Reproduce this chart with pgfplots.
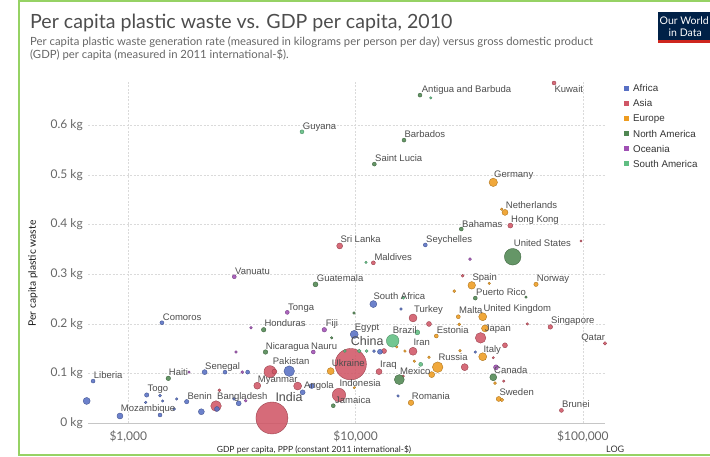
\documentclass[border=0pt]{standalone}
\usepackage{pgfplots}
\pgfplotsset{compat=1.18}
\usepackage{fontspec}
\setmainfont{Lato}
\newfontfamily\arialf{Liberation Sans}
\definecolor{afr}{RGB}{88,112,196}
\definecolor{asi}{RGB}{208,86,102}
\definecolor{eur}{RGB}{238,156,32}
\definecolor{nam}{RGB}{80,135,82}
\definecolor{oce}{RGB}{160,80,180}
\definecolor{sam}{RGB}{96,190,130}
\definecolor{labc}{RGB}{77,77,77}
\definecolor{tickc}{RGB}{102,102,102}
\definecolor{gridc}{RGB}{218,218,218}
\definecolor{frameg}{RGB}{150,210,100}
\definecolor{owidblue}{RGB}{0,33,71}
\definecolor{owidred}{RGB}{206,38,30}
\pgfplotsset{
 bub/.style={scatter, only marks, mark=*,
   scatter/use mapped color={draw=#1!72!black, fill=#1},
   mark options={fill opacity=0.88, line width=0.35pt},
   visualization depends on={\thisrow{r}\as\rr},
   scatter/@pre marker code/.append style={/tikz/mark size=\rr}}
}
\newcommand{\lab}[3]{\node[anchor=base west, inner sep=0pt, text=labc, font=\arialf\fontsize{9.5}{9.5}\selectfont] at (#1,#2+3.4) {#3};}
\begin{document}
\begin{tikzpicture}
\begin{axis}[
  at={(88pt,32.7pt)}, anchor=south west,
  scale only axis, width=517pt, height=341.3pt,
  xmode=log, xmin=665, xmax=125100, ymin=0, ymax=0.687,
  clip=false,
  axis line style={draw=none},
  major tick length=0pt, minor tick length=0pt,
  xminorticks=false,
  xtick={1000,10000,100000},
  xticklabels={{\$1,000},{\$10,000},{\$100,000}},
  ytick={0,0.1,0.2,0.3,0.4,0.5,0.6},
  yticklabels={{0 kg},{0.1 kg},{0.2 kg},{0.3 kg},{0.4 kg},{0.5 kg},{0.6 kg}},
  xmajorgrids, ymajorgrids,
  grid style={gridc, line width=0.5pt, dash pattern=on 2pt off 1.5pt},
  xticklabel style={font=\fontsize{12}{12}\selectfont, text=tickc, inner sep=0pt, yshift=-7pt},
  yticklabel style={font=\fontsize{12}{12}\selectfont, text=tickc, inner sep=0pt, xshift=-5pt},
]
\draw[gray!45, line width=0.6pt] (rel axis cs:0,0) -- (rel axis cs:1,0);
% Asia
\addplot[bub=asi] table[x=g,y=w] {
g w r
4285 0.0107 16
9515 0.119 15.7
74640 0.685 2
47930 0.398 2.5
8510 0.357 3
11970 0.323 2
98080 0.367 1.2
29580 0.297 1.5
17890 0.212 4
21030 0.200 2.5
56930 0.200 1.3
71900 0.194 2.3
35480 0.172 5.3
125100 0.161 1.8
45400 0.157 2.5
40340 0.132 1.2
17890 0.145 4
13340 0.1455 2.5
12680 0.104 3
30200 0.113 3.5
44840 0.085 1.3
16210 0.095 1.3
4201 0.104 6
4395 0.104 2.5
3694 0.0757 3.5
5560 0.075 4
2515 0.0664 1.5
2432 0.0348 5.3
8450 0.057 6.7
80440 0.026 2
};
% Africa
\addplot[bub=afr] table[x=g,y=w] {
g w r
656 0.045 3.5
700 0.085 2
919 0.0147 3
1205 0.057 2.2
1379 0.0555 1.5
1416 0.045 1.3
1193 0.042 1.3
1633 0.049 1.3
1379 0.0167 2
1592 0.0288 1.5
1807 0.0435 2.2
2096 0.0233 3
1406 0.2024 2
2167 0.103 2.5
2664 0.103 2
3350 0.103 2
2455 0.0288 2.5
2917 0.049 1.5
3060 0.0402 2.5
5105 0.105 5.3
6410 0.075 2.5
5850 0.0624 2.5
9860 0.179 4
11970 0.240 3.5
20260 0.359 2
15840 0.230 1.3
15370 0.055 1.3
33620 0.1435 1.3
12800 0.144 2.5
12050 0.1455 1.5
};
% Europe
\addplot[bub=eur] table[x=g,y=w] {
g w r
40340 0.485 4.2
45420 0.4245 3
43920 0.431 1.3
32430 0.2777 3.8
38740 0.2817 1.3
62190 0.2797 2.2
27180 0.266 1.5
28300 0.2145 2
36250 0.2145 4
28590 0.199 1.5
22650 0.1757 2
37100 0.191 3.5
36250 0.134 4
28800 0.146 1.3
21030 0.133 1.3
18130 0.125 1.3
22970 0.113 5.3
21620 0.098 3
41050 0.081 1.5
42620 0.049 2.5
44060 0.047 1.8
17530 0.0414 2.8
7770 0.105 3.5
9870 0.0716 1.2
16490 0.1455 1.3
15170 0.154 1.3
};
% North America
\addplot[bub=nam] table[x=g,y=w] {
g w r
19200 0.6606 2
16330 0.570 2
12090 0.5217 2
29170 0.391 2
49100 0.3352 8.3
6662 0.2797 2.5
3942 0.1883 2.3
4014 0.1435 2.3
1500 0.0905 2.3
7976 0.0354 2
15570 0.088 5
40340 0.0926 3.5
33620 0.252 2
56180 0.254 1.3
9840 0.222 1.3
7850 0.172 1.3
};
% Oceania
\addplot[bub=oce] table[x=g,y=w] {
g w r
2926 0.295 2
5005 0.2233 2
7283 0.1883 2.3
6515 0.1435 2
3466 0.1924 1.3
2977 0.1435 1.3
1849 0.103 1.3
3173 0.103 1.5
3285 0.0455 1.5
31870 0.3306 1.5
41470 0.1127 2.5
};
% South America
\addplot[bub=sam] table[x=g,y=w] {
g w r
5810 0.5867 2
21400 0.655 1.3
11110 0.324 1.3
14560 0.166 6.3
18680 0.183 2.5
16210 0.2527 1.5
19340 0.1187 2
8970 0.1455 1.5
10380 0.1455 1.8
11190 0.1455 1.5
};
\end{axis}
\begin{scope}[x=1pt,y=-1pt,shift={(0pt,456pt)}]
% frame
\draw[frameg, line width=2pt] (19,1) -- (712,1);
\draw[frameg, line width=2pt] (19,-2) -- (19,455) -- (712,455);
% title
\node[anchor=base west, inner sep=0pt, text=labc, font=\fontsize{19.6}{19.6}\selectfont] at (30,28.5) {Per capita plastic waste vs. GDP per capita, 2010};
\node[anchor=base west, inner sep=0pt, text=tickc, font=\fontsize{11.3}{11.3}\selectfont] at (30,45.8) {Per capita plastic waste generation rate (measured in kilograms per person per day) versus gross domestic product};
\node[anchor=base west, inner sep=0pt, text=tickc, font=\fontsize{11.3}{11.3}\selectfont] at (30,58.8) {(GDP) per capita (measured in 2011 international-\$).};
% logo
\fill[owidblue] (657.7,12.3) rectangle (712,43.3);
\fill[owidred] (657.7,40.5) rectangle (712,43.5);
\node[anchor=base west, inner sep=0pt, text=white, font=\fontsize{10.5}{10.5}\selectfont] at (659.5,24.5) {Our World};
\node[anchor=base west, inner sep=0pt, text=white, font=\fontsize{10.5}{10.5}\selectfont] at (668.5,36.5) {in Data};
% axis labels
\node[rotate=90, inner sep=0pt, text=black!90, font=\fontsize{10.3}{10.3}\selectfont] at (33,273.5) {Per capita plastic waste};
\node[anchor=base, inner sep=0pt, text=black!85, font=\fontsize{8.5}{8.5}\selectfont] at (314,452) {GDP per capita, PPP (constant 2011 international-\$)};
\node[anchor=base west, inner sep=0pt, text=black!80, font=\fontsize{9}{9}\selectfont] at (606,452) {LOG};
% legend
\foreach \c/\t [count=\i from 0] in {afr/Africa,asi/Asia,eur/Europe,nam/North America,oce/Oceania,sam/South America}{
  \fill[\c] (624,{88.3+15.1*\i-2.5}) rectangle (629,{88.3+15.1*\i+2.5});
  \node[anchor=base west, inner sep=0pt, text=black!80, font=\arialf\fontsize{9.8}{9.8}\selectfont] at (633,{88.3+15.1*\i+3.5}) {\t};
}
% labels
\lab{421.7}{89}{Antigua and Barbuda}
\lab{554.3}{89.3}{Kuwait}
\lab{302.7}{125.7}{Guyana}
\lab{404.3}{134.3}{Barbados}
\lab{375}{157.7}{Saint Lucia}
\lab{494}{173.7}{Germany}
\lab{505.7}{205.3}{Netherlands}
\lab{511}{219.3}{Hong Kong}
\lab{462}{223.7}{Bahamas}
\lab{340.3}{239.3}{Sri Lanka}
\lab{426}{239}{Seychelles}
\lab{513.7}{243.3}{United States}
\lab{374.3}{257.3}{Maldives}
\lab{235}{271}{Vanuatu}
\lab{316.7}{278.3}{Guatemala}
\lab{472.3}{277.3}{Spain}
\lab{536.7}{278.3}{Norway}
\lab{476}{291.7}{Puerto Rico}
\lab{373.3}{295.7}{South Africa}
\lab{288}{306.7}{Tonga}
\lab{414}{309.3}{Turkey}
\lab{459}{310}{Malta}
\lab{483.3}{308.3}{United Kingdom}
\lab{162.7}{317.3}{Comoros}
\lab{551}{320.3}{Singapore}
\lab{264.3}{323.3}{Honduras}
\lab{325.7}{323.3}{Fiji}
\lab{354.7}{326.7}{Egypt}
\lab{392.7}{330}{Brazil}
\lab{436.7}{330}{Estonia}
\lab{484.7}{328.3}{Japan}
\node[anchor=base east, inner sep=0pt, text=labc, font=\arialf\fontsize{9.5}{9.5}\selectfont] at (605.3,340.7) {Qatar};
\node[anchor=base west, inner sep=0pt, text=labc, font=\arialf\fontsize{12.5}{12.5}\selectfont] at (350.7,345.5) {China};
\lab{413.3}{342.3}{Iran}
\lab{265.7}{346}{Nicaragua}
\lab{311}{346}{Nauru}
\lab{483.3}{348.7}{Italy}
\lab{438.3}{357}{Russia}
\lab{272.7}{361.3}{Pakistan}
\lab{331.7}{363.3}{Ukraine}
\lab{380}{364.3}{Iraq}
\lab{205}{365.7}{Senegal}
\lab{400}{370.7}{Mexico}
\lab{494}{369.7}{Canada}
\lab{168.7}{371.7}{Haiti}
\lab{93.7}{375}{Liberia}
\lab{257.7}{378.7}{Myanmar}
\lab{339.3}{383.3}{Indonesia}
\lab{304}{385.3}{Angola}
\lab{147.3}{388.3}{Togo}
\lab{499.3}{392.3}{Sweden}
\lab{411.7}{395.7}{Romania}
\lab{187.3}{396}{Benin}
\lab{217}{396}{Bangladesh}
\node[anchor=base west, inner sep=0pt, text=labc, font=\arialf\fontsize{12.5}{12.5}\selectfont] at (275.3,401.2) {India};
\lab{335}{400}{Jamaica}
\lab{562}{404.3}{Brunei}
\lab{120.7}{408.3}{Mozambique}
\pgfresetboundingbox
\path[use as bounding box] (0,0) rectangle (710,456);
\end{scope}
\end{tikzpicture}
\end{document}
